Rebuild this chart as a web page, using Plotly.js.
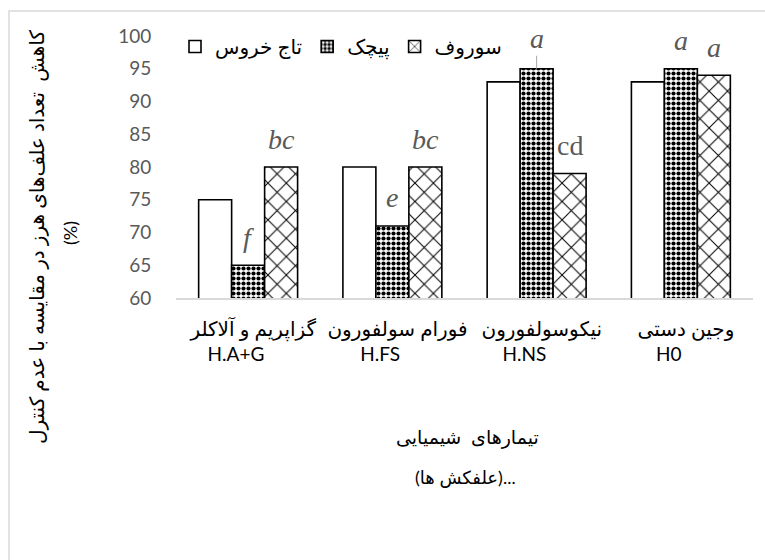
<!DOCTYPE html>
<html>
<head>
<meta charset="utf-8">
<script src="https://cdn.plot.ly/plotly-3.0.1.min.js"></script>
<style>html,body{margin:0;padding:0;background:#fff;}#chart{width:765px;height:560px;}</style>
</head>
<body>
<div id="chart"></div>
<script>
// ---- data ----
const categories = ['H.A+G', 'H.FS', 'H.NS', 'H0'];
const persianNames = ['گزاپریم و آلاکلر', 'فورام سولفورون', 'نیکوسولفورون', 'وجین دستی'];
const seriesNames = ['تاج خروس', 'پیچک', 'سوروف'];
const amaranth = [75, 80, 93, 93];   // تاج خروس
const bindweed = [65, 71, 95, 95];   // پیچک
const barnyard = [80, 80, 79, 94];   // سوروف
const bindweedLetters = ['f', 'e', 'a', 'a'];
const barnyardLetters = ['bc', 'bc', 'cd', 'a'];
const yTitle = 'کاهش  تعداد علف‌های هرز در مقایسه با عدم کنترل';
const yTitle2 = '(%)';
const xTitle = 'تیمارهای  شیمیایی';
const xTitle2 = '(علفکش ها)...';

// ---- layout constants ----
const W = 765, H = 560;
const M = {l: 176, r: 12, t: 36, b: 262};
const plotW = W - M.l - M.r, plotH = H - M.t - M.b;
const bargap = 0.314;
const barW = plotW / categories.length * (1 - bargap) / 3;
const px = v => (v - M.l) / plotW;
const py = v => (H - M.b - v) / plotH;
const NB = '\u00a0';

const FONT = "Lato, 'DejaVu Sans', sans-serif";
const outline = {color: '#000', width: 1.6};

const traces = [
  {type: 'bar', name: seriesNames[0], x: categories, y: amaranth,
   marker: {color: '#fff', line: outline}},
  {type: 'bar', name: seriesNames[1], x: categories, y: bindweed,
   marker: {color: '#fff', line: outline,
            pattern: {shape: '.', size: 5, solidity: 0.55, fgcolor: '#000', bgcolor: '#fff', fillmode: 'replace'}}},
  {type: 'bar', name: seriesNames[2], x: categories, y: barnyard,
   marker: {color: '#fff', line: outline,
            pattern: {shape: 'x', size: 13, solidity: 0.15, fgcolor: '#000', bgcolor: '#fff', fillmode: 'replace'}}}
];

const letterFont = {family: "'Liberation Serif', serif", size: 28, color: '#595959'};
const annotations = [];
const fmt = s => s === 'cd' ? s : '<i>' + s + '</i>';
categories.forEach((c, i) => {
  const lead = (i === 2);
  annotations.push({x: c, y: bindweed[i], xref: 'x', yref: 'y', text: fmt(bindweedLetters[i]),
    font: letterFont, showarrow: lead, arrowhead: 0, arrowwidth: 1, arrowcolor: '#a6a6a6',
    ax: 0, ay: lead ? -30 : 0, yshift: lead ? 0 : 28, xshift: 0});
  annotations.push({x: c, y: barnyard[i], xref: 'x', yref: 'y', text: fmt(barnyardLetters[i]),
    font: letterFont, showarrow: false, yshift: 28, xshift: barW});
});
annotations.push({xref: 'paper', yref: 'paper', x: px(36), y: py(237), text: yTitle, textangle: -90,
  showarrow: false, xanchor: 'center', yanchor: 'middle', font: {family: FONT, size: 20, color: '#000'}});
annotations.push({xref: 'paper', yref: 'paper', x: px(70), y: py(233), text: yTitle2, textangle: -90,
  showarrow: false, xanchor: 'center', yanchor: 'middle', font: {family: FONT, size: 18, color: '#000'}});
annotations.push({xref: 'paper', yref: 'paper', x: px(468), y: py(437), text: xTitle,
  showarrow: false, xanchor: 'center', yanchor: 'middle', font: {family: FONT, size: 19, color: '#000'}});
annotations.push({xref: 'paper', yref: 'paper', x: px(465), y: py(477), text: xTitle2,
  showarrow: false, xanchor: 'center', yanchor: 'middle', font: {family: FONT, size: 18, color: '#000'}});

const layout = {
  width: W, height: H, margin: M,
  paper_bgcolor: '#fff', plot_bgcolor: '#fff',
  barmode: 'group', bargap: bargap, bargroupgap: 0,
  showlegend: true,
  legend: {orientation: 'h', x: px(175), y: py(27), xanchor: 'left', yanchor: 'top',
           font: {family: FONT, size: 20, color: '#000'}, bgcolor: 'rgba(0,0,0,0)', traceorder: 'normal'},
  xaxis: {type: 'category', tickvals: categories, tickangle: 0,
          ticktext: categories.map((c, i) => '<span style="font-size:20px">' + NB + NB + persianNames[i] + '</span><br>' + c + NB + NB + NB + NB + NB),
          showline: true, linecolor: '#d9d9d9', linewidth: 1.5, showgrid: false, zeroline: false,
          ticks: 'outside', ticklen: 14, tickcolor: 'rgba(0,0,0,0)',
          tickfont: {family: FONT, size: 19, color: '#000'}},
  yaxis: {range: [60, 100], dtick: 5, showline: false, showgrid: false, zeroline: false,
          ticks: 'outside', ticklen: 20, tickcolor: 'rgba(0,0,0,0)',
          tickfont: {family: FONT, size: 19, color: '#595959'}},
  annotations: annotations,
  shapes: [{type: 'rect', xref: 'paper', yref: 'paper', x0: px(9), x1: 1.2, y0: -1.5, y1: py(11),
            line: {color: '#d9d9d9', width: 1.5}, fillcolor: 'rgba(0,0,0,0)', layer: 'below'}]
};

Plotly.newPlot('chart', traces, layout, {displayModeBar: false, staticPlot: true});
</script>
</body>
</html>
